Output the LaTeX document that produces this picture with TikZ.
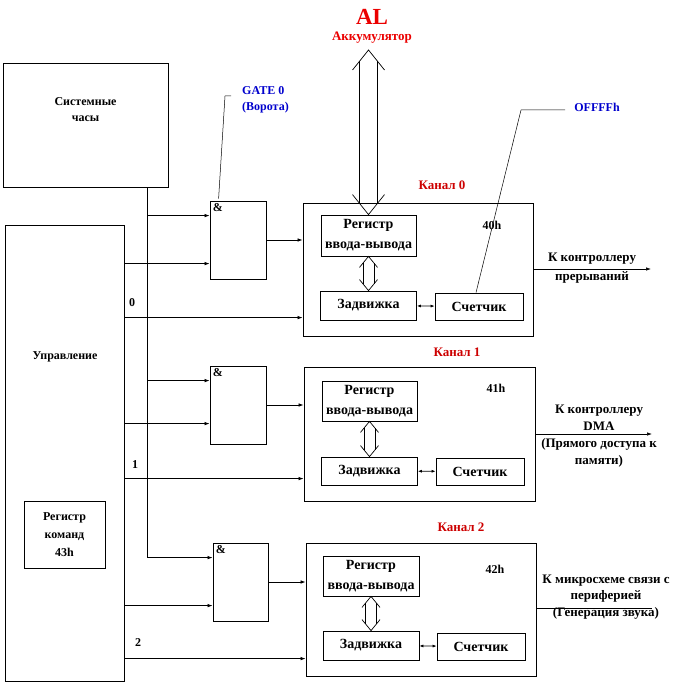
\documentclass[tikz,border=0pt]{standalone}
\usepackage{fontspec}
\setmainfont{Liberation Serif}
\usepackage{tikz}
\usetikzlibrary{calc, arrows.meta}
\definecolor{alred}{RGB}{235,0,0}
\definecolor{chred}{RGB}{205,0,0}
\definecolor{gblue}{RGB}{0,0,205}
\tikzset{
  box/.style={rectangle, draw, line width=0.8pt, inner sep=0pt},
  txt/.style={align=center, inner sep=0pt, font=\bfseries\fontsize{12}{16}\selectfont},
  redtxt/.style={txt, text=chred, font=\bfseries\fontsize{13}{16}\selectfont},
  inbox/.style={box, align=center, font=\bfseries\fontsize{14}{20}\selectfont},
  gate/.style={box, minimum width=56pt, minimum height=78pt,
    label={[txt, anchor=north west, inner sep=3pt]north west:\&}},
  wire/.style={line width=0.7pt},
  arrow/.style={wire, -{Latex[length=5pt,width=3.5pt]}},
  twoway/.style={wire, {Latex[length=4pt,width=3pt]}-{Latex[length=4pt,width=3pt]}},
  hollow/.style={line width=0.7pt},
  callout/.style={line width=0.5pt},
}
% hollow up-down arrow: top apex, bottom apex, shaft half width, head half width, head length
\newcommand{\hollowarrow}[5]{%
  \pgfmathsetmacro\hollowdy{#5*#3/#4}
  \draw[hollow] ($(#1)+(-#4,#5)$) -- (#1) -- ($(#1)+(#4,#5)$);
  \draw[hollow] ($(#2)+(-#4,-#5)$) -- (#2) -- ($(#2)+(#4,-#5)$);
  \draw[hollow] ($(#1)+(-#3,\hollowdy)$) -- ($(#2)+(-#3,-\hollowdy)$);
  \draw[hollow] ($(#1)+(#3,\hollowdy)$) -- ($(#2)+(#3,-\hollowdy)$);
}
\begin{document}
\begin{tikzpicture}[x=1pt, y=-1pt]
  \useasboundingbox (0,0) rectangle (684,684);

  % Accumulator
  \node[txt, text=alred, font=\bfseries\fontsize{23}{24}\selectfont] (al) at (372,17) {AL};
  \node[redtxt, text=alred] (acc) at (372,38) {Аккумулятор};
  \coordinate (alTop) at (368.5,50);

  % Clock and control
  \node[box, minimum width=165pt, minimum height=124pt] (clock) at (85.5,125) {};
  \node[txt] (clocktxt) at (85.5,110) {Системные\\часы};
  \node[box, minimum width=119pt, minimum height=456pt] (upr) at (64.5,453) {};
  \node[txt] (uprtxt) at (65,357) {Управление};
  \node[box, minimum width=81pt, minimum height=67pt, align=center,
    font=\bfseries\fontsize{12}{18}\selectfont] (cmd) at (64.5,534.5) {Регистр\\команд\\43h};
  \coordinate (busx) at (147,0);

  % Gates
  \node[gate] (g0) at (238,240) {};
  \node[gate] (g1) at (238,405) {};
  \node[gate, minimum width=55pt] (g2) at (240.5,582) {};
  \coordinate (g0a) at ($(g0.north west)+(0,15)$);
  \coordinate (g0b) at ($(g0.north west)+(0,63)$);
  \coordinate (g1a) at ($(g1.north west)+(0,15)$);
  \coordinate (g1b) at ($(g1.north west)+(0,58)$);
  \coordinate (g2a) at ($(g2.north west)+(0,15)$);
  \coordinate (g2b) at ($(g2.north west)+(0,63)$);

  % Channel 0
  \node[box, minimum width=230pt, minimum height=133pt] (ch0) at (418,269.5) {};
  \node[redtxt] (ch0lbl) at (442,185) {Канал 0};
  \node[inbox, minimum width=95pt, minimum height=41pt] (reg0) at (368.5,235.5) {Регистр\\ввода-вывода};
  \node[inbox, minimum width=96pt, minimum height=29pt] (zad0) at (368.5,305.5) {Задвижка};
  \node[inbox, minimum width=88pt, minimum height=27pt] (sch0) at (479,306.5) {Счетчик};
  \node[txt] (adr0) at (492,225) {40h};
  \coordinate (c0in) at ($(ch0.north west)+(0,115)$);

  % Channel 1
  \node[box, minimum width=231pt, minimum height=134pt] (ch1) at (419.5,434) {};
  \node[redtxt] (ch1lbl) at (457,352) {Канал 1};
  \node[inbox, minimum width=95pt, minimum height=40pt] (reg1) at (369.5,401) {Регистр\\ввода-вывода};
  \node[inbox, minimum width=96pt, minimum height=28pt] (zad1) at (369.5,471) {Задвижка};
  \node[inbox, minimum width=88pt, minimum height=27pt] (sch1) at (480,471.5) {Счетчик};
  \node[txt] (adr1) at (496,388) {41h};
  \coordinate (c1in) at ($(ch1.north west)+(0,112)$);

  % Channel 2
  \node[box, minimum width=96pt, minimum height=40pt, inbox] (reg2) at (371,576) {Регистр\\ввода-вывода};
  \node[box, minimum width=230pt, minimum height=133pt] (ch2) at (421,609.5) {};
  \node[redtxt] (ch2lbl) at (461,527) {Канал 2};
  \node[inbox, minimum width=96pt, minimum height=29pt] (zad2) at (371,645.5) {Задвижка};
  \node[inbox, minimum width=88pt, minimum height=27pt] (sch2) at (481,646.5) {Счетчик};
  \node[txt] (adr2) at (495,569) {42h};
  \coordinate (c2in) at ($(ch2.north west)+(0,116)$);

  % Clock bus
  \draw[wire] (clock.south -| busx) -- (busx |- g2a);
  \draw[arrow] (busx |- g2a) -- (g2a);
  \draw[arrow] (busx |- g0a) -- (g0a);
  \draw[arrow] (busx |- g1a) -- (g1a);

  % Control lines
  \draw[arrow] (upr.east |- g0b) -- (g0b);
  \draw[arrow] (upr.east |- g1b) -- (g1b);
  \draw[arrow] (upr.east |- g2b) -- (g2b);
  \draw[arrow] (upr.east |- c0in) -- (c0in);
  \draw[arrow] (upr.east |- c1in) -- (c1in);
  \draw[arrow] (upr.east |- c2in) -- (c2in);
  \node[txt] (n0) at (132,303) {0};
  \node[txt] (n1) at (135,465) {1};
  \node[txt] (n2) at (138,643) {2};

  % Gate outputs
  \draw[arrow] (g0.east) -- (g0.east -| ch0.west);
  \draw[arrow] (g1.east) -- (g1.east -| ch1.west);
  \draw[arrow] (g2.east) -- (g2.east -| ch2.west);

  % Inside channels
  \hollowarrow{alTop}{reg0.north}{9}{16}{20}
  \hollowarrow{reg0.south}{zad0.north}{5.5}{9}{11}
  \hollowarrow{reg1.south}{zad1.north}{5.5}{9}{11}
  \hollowarrow{reg2.south}{zad2.north}{5.5}{9}{11}
  \draw[twoway] (zad0) -- (sch0);
  \draw[twoway] (zad1) -- (sch1);
  \draw[twoway] (zad2) -- (sch2);

  % Outputs
  \coordinate (out0) at (651,269);
  \coordinate (out1) at (652,434);
  \coordinate (out2) at (652,608);
  \draw[arrow] (ch0.east |- out0) -- (out0);
  \draw[arrow] (ch1.east |- out1) -- (out1);
  \draw[wire] (ch2.east |- out2) -- (out2);
  \node[txt, font=\bfseries\fontsize{13}{19}\selectfont] (out0txt) at (592,268.5) {К контроллеру\\прерываний};
  \node[txt, font=\bfseries\fontsize{13}{17}\selectfont] (out1txt) at (599,436) {К контроллеру\\DMA\\(Прямого доступа к\\памяти)};
  \node[txt, font=\bfseries\fontsize{13}{16.5}\selectfont] (out2txt) at (606,597) {К микросхеме связи с\\периферией\\(Генерация звука)};

  % Callouts
  \node[txt, text=gblue, align=left, anchor=west] (gatetxt) at (242,100) {GATE 0\\(Ворота)};
  \coordinate (gk) at (225,96);
  \coordinate (ge) at (231,96);
  \draw[callout] ($(g0.north west)+(9,-2)$) -- (gk) -- (ge);
  \node[txt, text=gblue] (offtxt) at (597,107) {OFFFFh};
  \coordinate (offk) at (521,110);
  \coordinate (offe) at (565,110);
  \draw[callout] ($(sch0.north)+(-3,0)$) -- (offk) -- (offe);

\end{tikzpicture}
\end{document}
